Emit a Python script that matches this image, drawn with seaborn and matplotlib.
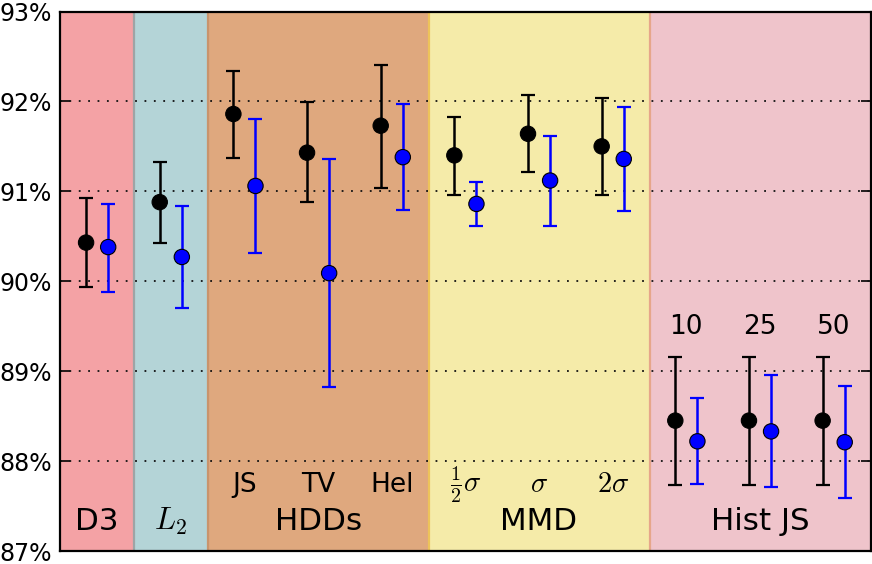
import matplotlib
matplotlib.use("Agg")
import matplotlib.pyplot as plt
import seaborn as sns
import numpy as np
import pandas as pd

# ---- data ----
categories = ["D3", "L2", "JS", "TV", "Hel", "half_sigma", "sigma", "two_sigma", "10", "25", "50"]
sub_labels = ["", "", "JS", "TV", "Hel", r"$\frac{1}{2}\sigma$", r"$\sigma$", r"$2\sigma$", "10", "25", "50"]

black_mean = [90.43, 90.88, 91.86, 91.43, 91.73, 91.40, 91.64, 91.50, 88.45, 88.45, 88.45]
black_low  = [89.94, 90.43, 91.37, 90.88, 91.04, 90.96, 91.21, 90.96, 87.73, 87.73, 87.73]
black_high = [90.93, 91.33, 92.34, 91.99, 92.41, 91.83, 92.07, 92.04, 89.16, 89.16, 89.16]

blue_mean = [90.38, 90.27, 91.06, 90.09, 91.38, 90.86, 91.12, 91.36, 88.22, 88.33, 88.21]
blue_low  = [89.88, 89.70, 90.31, 88.82, 90.79, 90.61, 90.62, 90.78, 87.75, 87.71, 87.59]
blue_high = [90.86, 90.84, 91.80, 91.36, 91.97, 91.10, 91.61, 91.94, 88.70, 88.96, 88.84]

group_names = ["D3", r"$L_2$", "HDDs", "MMD", "Hist JS"]
group_start = [0, 1, 2, 5, 8]
group_end = [0, 1, 4, 7, 10]
group_colors = ["#f4a2a5", "#b4d4d7", "#dfa87e", "#f5eba9", "#efc4cb"]
group_edges = ["#f4a2a5", "#9ea4a5", "#c9946c", "#edc35a", "#e6a68a"]

y_ticks = [87, 88, 89, 90, 91, 92, 93]

# ---- style ----
sns.set_style("white")
plt.rcParams["font.family"] = ["DejaVu Sans"]
plt.rcParams["mathtext.fontset"] = "cm"
plt.rcParams["text.color"] = "black"
plt.rcParams["ytick.color"] = "black"
plt.rcParams["xtick.color"] = "black"
plt.rcParams["axes.labelcolor"] = "black"

fig = plt.figure(figsize=(8.72, 5.64), dpi=100)
ax = fig.add_axes([60.3 / 872, 13 / 564, (870.5 - 60.3) / 872, (551.5 - 12) / 564])

n = len(categories)
ax.set_xlim(-0.5, n - 0.5)
ax.set_ylim(87, 93)

# region backgrounds
for s, e, c in zip(group_start, group_end, group_colors):
    ax.axvspan(s - 0.5, e + 0.5, facecolor=c, edgecolor="none", zorder=0)
for s, ec in zip(group_start[1:], group_edges[1:]):
    ax.axvline(s - 0.5, color=ec, lw=1.6, zorder=0.5)

# grid
for yv in y_ticks[1:-1]:
    ax.axhline(yv, color="#111111", lw=1.3, linestyle=(0, (1, 4.2)), zorder=1)

x = np.arange(n)
off = 0.15
df = pd.DataFrame({
    "x": np.concatenate([x - off, x + off]),
    "y": black_mean + blue_mean,
    "lo": black_low + blue_low,
    "hi": black_high + blue_high,
    "series": ["black"] * n + ["blue"] * n,
})

for ser, col in [("black", "black"), ("blue", "#0000ff")]:
    d = df[df.series == ser]
    ax.errorbar(d["x"], d["y"], yerr=[d["y"] - d["lo"], d["hi"] - d["y"]],
                fmt="none", ecolor=col, elinewidth=1.8, capsize=5.3, capthick=1.6, zorder=3)

sns.scatterplot(data=df, x="x", y="y", hue="series",
                palette={"black": "black", "blue": "#0000ff"},
                s=122, edgecolor="black", linewidth=0.8, legend=False, ax=ax, zorder=4)

# group labels
for name, s, e in zip(group_names, group_start, group_end):
    ax.text((s + e) / 2, 87.235, name, ha="center", va="baseline", fontsize=22.3,
            color="black", zorder=5)

# sub labels
for i, lab in enumerate(sub_labels):
    if not lab:
        continue
    yb = 89.415 if i >= 8 else 87.66
    fs = 20.5 if lab.startswith("$") else 19
    ax.text(i, yb, lab, ha="center", va="baseline", fontsize=fs, color="black", zorder=5)

ax.set_yticks(y_ticks)
ax.set_yticklabels([f"{v}%" for v in y_ticks], fontsize=17, color="black")
ax.set_xticks([])
ax.set_xlabel("")
ax.set_ylabel("")
ax.tick_params(axis="y", direction="in", length=7, width=1.2, left=True, right=True, pad=6)
for sp in ax.spines.values():
    sp.set_visible(True)
    sp.set_color("black")
    sp.set_linewidth(1.6)
    sp.set_zorder(6)

fig.savefig("out.png", dpi=100)
